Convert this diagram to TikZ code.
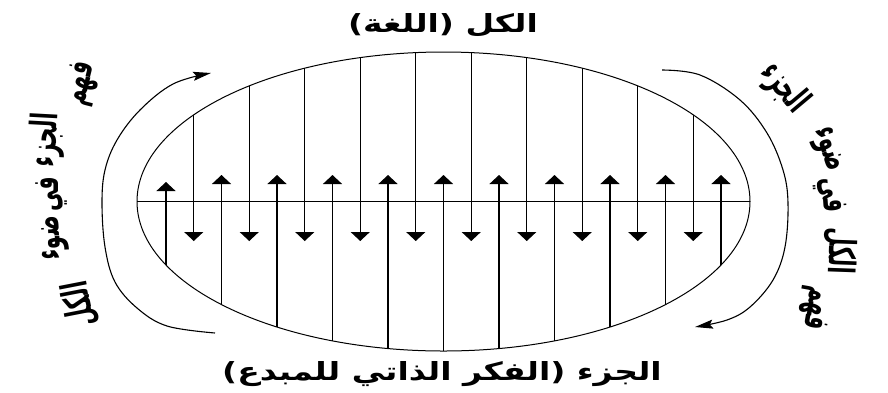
\documentclass[tikz,border=0pt]{standalone}
\usepackage{fontspec}
\usepackage{graphicx}
\newfontfamily\arabicfont[Script=Arabic]{DejaVu Sans}
\TeXXeTstate=1
\usetikzlibrary{arrows.meta}
\newcommand\wideAr[1]{\scalebox{1.32}[1]{\beginR #1\endR}}
\newcommand\sideAr[1]{\scalebox{0.8}[1.4]{\beginR #1\endR}}
\begin{document}
\begin{tikzpicture}[x=1pt,y=-1pt,
  vline/.style={line width=1.1pt,black},
  uparrow/.style={vline,-{Triangle[width=19pt,length=9pt]}},
  downarrow/.style={vline,-{Triangle[width=19pt,length=9pt]}},
  midline/.style={line width=0.9pt},
  ellipseline/.style={line width=1pt},
  arcline/.style={line width=1.1pt,-{Stealth[length=18pt,width=9pt,inset=3pt]}},
  label/.style={font=\arabicfont\bfseries\fontsize{25}{29}\selectfont,inner sep=0pt},
  sideword/.style={font=\arabicfont\bfseries\fontsize{26}{30}\selectfont,inner sep=0pt,anchor=center}
]
\useasboundingbox (0,0) rectangle (888,392);
% ellipse and midline
\draw[ellipseline] (443.5,201.5) ellipse [x radius=306.5, y radius=149.5];
\coordinate (mL) at (137,201.5);
\coordinate (mR) at (750,201.5);
\draw[midline] (mL) -- (mR);
% up arrows
\foreach \k in {0,...,10} {
  \pgfmathsetmacro\xx{166+55.5*\k}
  \pgfmathsetmacro\yb{201.5+149.5*sqrt(1-((\xx-443.5)/306.5)^2)}
  \pgfmathsetmacro\tip{ifthenelse(\k==0,182,175)}
  \coordinate (ub\k) at (\xx,\yb);
  \coordinate (ut\k) at (\xx,\tip);
  \draw[uparrow] (ub\k) -- (ut\k);
}
% down arrows
\foreach \k in {0,...,9} {
  \pgfmathsetmacro\xx{193.75+55.5*\k}
  \pgfmathsetmacro\yt{201.5-149.5*sqrt(1-((\xx-443.5)/306.5)^2)}
  \coordinate (dt\k) at (\xx,\yt);
  \coordinate (db\k) at (\xx,241);
  \draw[downarrow] (dt\k) -- (db\k);
}
% outer arcs
\draw[arcline] plot[smooth,tension=0.6] coordinates {(215,333) (167,326) (137,308) (115,282) (105,247) (102,203) (105,170) (117,140) (140,110) (173,84) (211,73)};
\draw[arcline] plot[smooth,tension=0.6] coordinates {(662,70) (700,75) (740,100) (767,133) (783,170) (788,203) (785,247) (773,280) (750,307) (727,320) (695,327)};
% top and bottom labels
\node[label] (whole) at (443,25) {\wideAr{الكل (اللغة)}};
\node[label] (part) at (442,374) {\wideAr{الجزء (الفكر الذاتي للمبدع)}};
% left side text
\node[sideword,rotate=76] (l1) at (82,84) {\sideAr{فهم}};
\node[sideword,rotate=87] (l2) at (47,140) {\sideAr{الجزء}};
\node[sideword,rotate=90] (l3) at (52,194) {\sideAr{في}};
\node[sideword,rotate=93] (l4) at (55,238) {\sideAr{ضوء}};
\node[sideword,rotate=101] (l5) at (80,304) {\sideAr{الكل}};
% right side text
\node[sideword,rotate=-50] (r1) at (784,88) {\sideAr{الجزء}};
\node[sideword,rotate=-72] (r2) at (826,150) {\sideAr{ضوء}};
\node[sideword,rotate=-86] (r3) at (830,195) {\sideAr{في}};
\node[sideword,rotate=-92] (r4) at (840,251) {\sideAr{الكل}};
\node[sideword,rotate=-100] (r5) at (815,308) {\sideAr{فهم}};
\end{tikzpicture}
\end{document}
